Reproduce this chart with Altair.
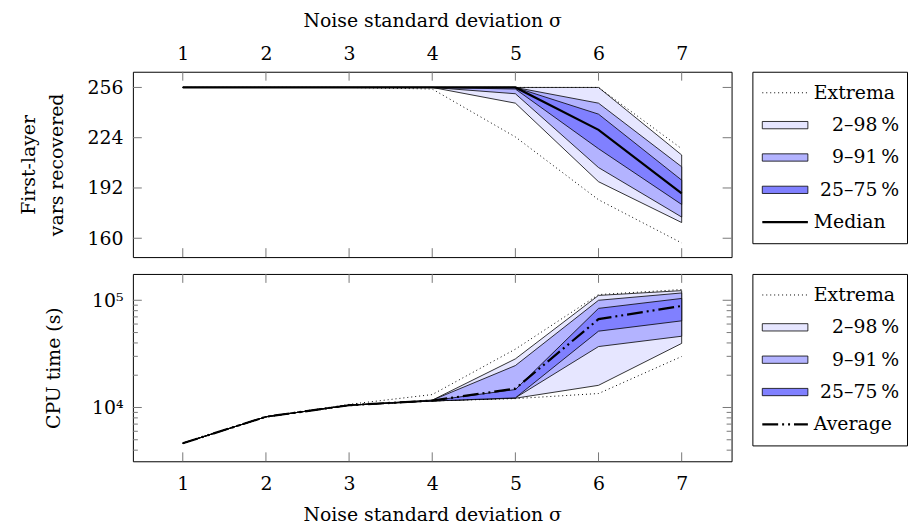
import altair as alt
import pandas as pd

# ---------------- data ----------------
sigma = [1, 2, 3, 4, 5, 6, 7]

# First-layer vars recovered (top panel)
vars_max = [256, 256, 256, 256, 256, 256, 217]
vars_p98 = [256, 256, 256, 256, 256, 256, 213]
vars_p91 = [256, 256, 256, 256, 256, 246, 205.5]
vars_p75 = [256, 256, 256, 256, 256, 239, 197]
vars_med = [256, 256, 256, 256, 256, 229, 188.5]
vars_p25 = [256, 256, 256, 256, 255, 217, 181.5]
vars_p9 = [256, 256, 256, 256, 252, 205, 173.5]
vars_p2 = [256, 256, 256, 256, 246, 196, 170]
vars_min = [256, 256, 256, 255, 224.5, 184.5, 157]

# CPU time in seconds (bottom panel)
cpu_max = [4640, 8190, 10700, 13200, 35000, 113000, 126000]
cpu_p98 = [4640, 8190, 10500, 11700, 28400, 111000, 123000]
cpu_p91 = [4640, 8190, 10500, 11700, 24600, 100000, 117000]
cpu_p75 = [4640, 8190, 10500, 11600, 14700, 84000, 104000]
cpu_avg = [4640, 8190, 10500, 11600, 15000, 66700, 88500]
cpu_p25 = [4640, 8190, 10500, 11500, 12300, 51500, 64300]
cpu_p9 = [4640, 8190, 10500, 11500, 12300, 37000, 46200]
cpu_p2 = [4640, 8190, 10500, 11500, 12200, 16100, 39600]
cpu_min = [4640, 8190, 10500, 11500, 12100, 13500, 29900]

top_yticks = [160, 192, 224, 256]
bot_major = [10000, 100000]
bot_minor = [4000, 5000, 6000, 7000, 8000, 9000,
             20000, 30000, 40000, 50000, 60000, 70000, 80000, 90000]

leg_top_labels = ["Extrema", "2–98\u202f%", "9–91\u202f%", "25–75\u202f%", "Median"]
leg_bot_labels = ["Extrema", "2–98\u202f%", "9–91\u202f%", "25–75\u202f%", "Average"]
band_colors = ["#e6e6ff", "#b3b3ff", "#8080ff"]

# ---------------- style ----------------
FONT = "DejaVu Serif"
FS = 19
W = 604
H_TOP = 187
H_BOT = 189
TICK = "#777777"
TL = 9     # major tick length
TLm = 5    # minor tick length
EDGE = 0.8

xscale = alt.Scale(domain=[0.4, 7.6], nice=False, zero=False)
ytop_scale = alt.Scale(domain=[148, 266], nice=False, zero=False)
ybot_scale = alt.Scale(type="log", domain=[3150, 176000], nice=False)

x_top_axis = alt.Axis(orient="top", values=sigma, format="d", ticks=False, domain=False,
                      grid=False, labelPadding=8, title="Noise standard deviation σ",
                      titlePadding=15)
x_bot_axis = alt.Axis(orient="bottom", values=sigma, format="d", ticks=False, domain=False,
                      grid=False, labelPadding=13, title="Noise standard deviation σ",
                      titlePadding=13)
y_top_axis = alt.Axis(values=top_yticks, ticks=False, domain=False, grid=False,
                      labelPadding=10, title=["First-layer", "vars recovered"],
                      titlePadding=21, titleLineHeight=28)
y_bot_axis = alt.Axis(values=bot_major, ticks=False, domain=False, grid=False,
                      labelPadding=10, title="CPU time (s)", titlePadding=28,
                      labelExpr="datum.value == 10000 ? '10⁴' : '10⁵'")

df_top = pd.DataFrame({"x": sigma, "mx": vars_max, "p98": vars_p98, "p91": vars_p91,
                       "p75": vars_p75, "med": vars_med, "p25": vars_p25, "p9": vars_p9,
                       "p2": vars_p2, "mn": vars_min})
df_bot = pd.DataFrame({"x": sigma, "mx": cpu_max, "p98": cpu_p98, "p91": cpu_p91,
                       "p75": cpu_p75, "avg": cpu_avg, "p25": cpu_p25, "p9": cpu_p9,
                       "p2": cpu_p2, "mn": cpu_min})


def panel(df, yscale, xaxis, yaxis, center_field, center_dash, height, major, minor):
    X = lambda f: alt.X(f + ":Q", scale=xscale, axis=xaxis)
    Y = lambda f: alt.Y(f + ":Q", scale=yscale, axis=yaxis)
    base = alt.Chart(df)
    layers = []
    for (lo, hi), col in zip([("p2", "p98"), ("p9", "p91"), ("p25", "p75")], band_colors):
        layers.append(base.mark_area(fill=col, fillOpacity=1, stroke="black",
                                     strokeWidth=EDGE, interpolate="linear")
                      .encode(x=X("x"), y=Y(lo), y2=alt.Y2(hi + ":Q")))
    for f in ["mx", "mn"]:
        layers.append(base.mark_line(color="black", strokeWidth=1, strokeDash=[1, 3])
                      .encode(x=X("x"), y=Y(f)))
    line_kw = dict(color="black", strokeWidth=2.2)
    if center_dash:
        line_kw["strokeDash"] = center_dash
    layers.append(base.mark_line(**line_kw).encode(x=X("x"), y=Y(center_field)))

    xt = alt.Chart(pd.DataFrame({"x": sigma}))
    layers.append(xt.mark_rule(color=TICK, strokeWidth=1).encode(
        x=X("x"), y=alt.value(0), y2=alt.value(TL)))
    layers.append(xt.mark_rule(color=TICK, strokeWidth=1).encode(
        x=X("x"), y=alt.value(height), y2=alt.value(height - TL)))
    yt = alt.Chart(pd.DataFrame({"v": major}))
    layers.append(yt.mark_rule(color=TICK, strokeWidth=1).encode(
        y=Y("v"), x=alt.value(0), x2=alt.value(TL)))
    layers.append(yt.mark_rule(color=TICK, strokeWidth=1).encode(
        y=Y("v"), x=alt.value(W), x2=alt.value(W - TL)))
    if minor:
        ym = alt.Chart(pd.DataFrame({"v": minor}))
        layers.append(ym.mark_rule(color=TICK, strokeWidth=1).encode(
            y=Y("v"), x=alt.value(0), x2=alt.value(TLm)))
        layers.append(ym.mark_rule(color=TICK, strokeWidth=1).encode(
            y=Y("v"), x=alt.value(W), x2=alt.value(W - TLm)))
    return alt.layer(*layers).properties(width=W, height=height)


top = panel(df_top, ytop_scale, x_top_axis, y_top_axis, "med", None, H_TOP,
            top_yticks, None)
bot = panel(df_bot, ybot_scale, x_bot_axis, y_bot_axis, "avg", [16, 4, 2, 4, 2, 4], H_BOT,
            bot_major, bot_minor)

LW = 156
LH = 173


def legend(labels, center_dash):
    df = pd.DataFrame({"k": list(range(5)), "label": labels})
    Y = alt.Y("k:O", scale=alt.Scale(type="point", padding=0.65, domain=list(range(5))),
              axis=None)
    base = alt.Chart(df)
    rect_path = "M-1,-0.16L1,-0.16L1,0.16L-1,0.16Z"
    layers = [
        base.transform_filter("datum.k == 0").mark_rule(color="black", strokeWidth=1,
                                                        strokeDash=[1, 3])
        .encode(y=Y, x=alt.value(10), x2=alt.value(56)),
        base.transform_filter("datum.k >= 1 && datum.k <= 3")
        .mark_point(shape=rect_path, size=46 * 46, filled=True, opacity=1,
                    stroke="black", strokeWidth=EDGE)
        .encode(y=Y, x=alt.value(33),
                fill=alt.Fill("label:N", scale=alt.Scale(domain=labels[1:4], range=band_colors),
                              legend=None)),
    ]
    kw = dict(color="black", strokeWidth=2.2)
    if center_dash:
        kw["strokeDash"] = center_dash
    layers.append(base.transform_filter("datum.k == 4").mark_rule(**kw)
                  .encode(y=Y, x=alt.value(10), x2=alt.value(56)))
    layers.append(base.transform_filter("datum.k == 0 || datum.k == 4")
                  .mark_text(align="left", baseline="middle", font=FONT, fontSize=FS,
                             color="black")
                  .encode(y=Y, x=alt.value(62), text="label:N"))
    layers.append(base.transform_filter("datum.k >= 1 && datum.k <= 3")
                  .mark_text(align="right", baseline="middle", font=FONT, fontSize=FS,
                             color="black")
                  .encode(y=Y, x=alt.value(148), text="label:N"))
    return alt.layer(*layers).properties(width=LW, height=LH)


leg_top = legend(leg_top_labels, None)
leg_bot = legend(leg_bot_labels, [16, 4, 2, 4, 2, 4])

chart = alt.concat(top, leg_top, bot, leg_bot, columns=2,
                   spacing={"row": 15, "column": 19}).configure_view(
    stroke="black", strokeWidth=1
).configure_axis(
    labelFont=FONT, titleFont=FONT, labelFontSize=FS, titleFontSize=FS,
    labelColor="black", titleColor="black", titleFontWeight="normal"
).configure_concat(spacing=15).properties(padding={"left": 11, "top": 0, "right": 0, "bottom": 0})

chart.save("out.html", embed_options={"renderer": "svg", "actions": False})
